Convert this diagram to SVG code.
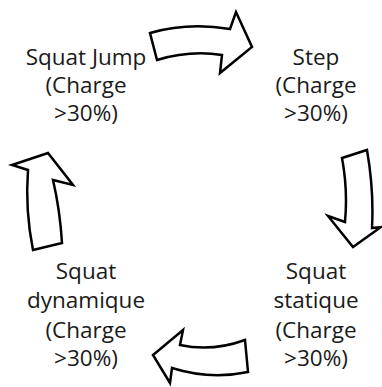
<svg xmlns="http://www.w3.org/2000/svg" width="382" height="387" viewBox="0 0 382 387">
<style>
.arrow{fill:#fff;stroke:#000;stroke-width:2.5;stroke-linejoin:miter}
.lbl{font-family:"Open Sans","DejaVu Sans",sans-serif;font-size:22.5px;fill:#1a1a1a;text-anchor:middle}
</style>
<rect width="382" height="387" fill="#fff"/>
<g id="connectors">
<path id="arrow-top" class="arrow" d="M150,33 Q188,22 230,29 L236,12 L252,47 L220,73 L222,55 Q190,50 157,60 Z"/>
<path id="arrow-right" class="arrow" d="M342,158 L367,150 Q374,190 372,228 L381,227 L353,247 L328,216 L345,222 Q348,190 342,158 Z"/>
<path id="arrow-bottom" class="arrow" d="M245,340 Q212,352 180,345 L183,330 L153,355 L170,383 L172,368 Q210,380 248,372 Z"/>
<path id="arrow-left" class="arrow" d="M33,250 L62,243 Q60,210 53,180 L73,185 L48,153 L12,165 L28,170 Q25,210 33,250 Z"/>
</g>
<g id="node-squat-jump">
<text class="lbl" x="86" y="65">Squat Jump</text>
<text class="lbl" x="86" y="93">(Charge</text>
<text class="lbl" x="86" y="121">&gt;30%)</text>
</g>
<g id="node-step">
<text class="lbl" x="316" y="65">Step</text>
<text class="lbl" x="316" y="93">(Charge</text>
<text class="lbl" x="316" y="121">&gt;30%)</text>
</g>
<g id="node-squat-statique">
<text class="lbl" x="316" y="279">Squat</text>
<text class="lbl" x="316" y="308">statique</text>
<text class="lbl" x="316" y="338">(Charge</text>
<text class="lbl" x="316" y="366">&gt;30%)</text>
</g>
<g id="node-squat-dynamique">
<text class="lbl" x="86" y="279">Squat</text>
<text class="lbl" x="86" y="308">dynamique</text>
<text class="lbl" x="86" y="338">(Charge</text>
<text class="lbl" x="86" y="366">&gt;30%)</text>
</g>
</svg>
